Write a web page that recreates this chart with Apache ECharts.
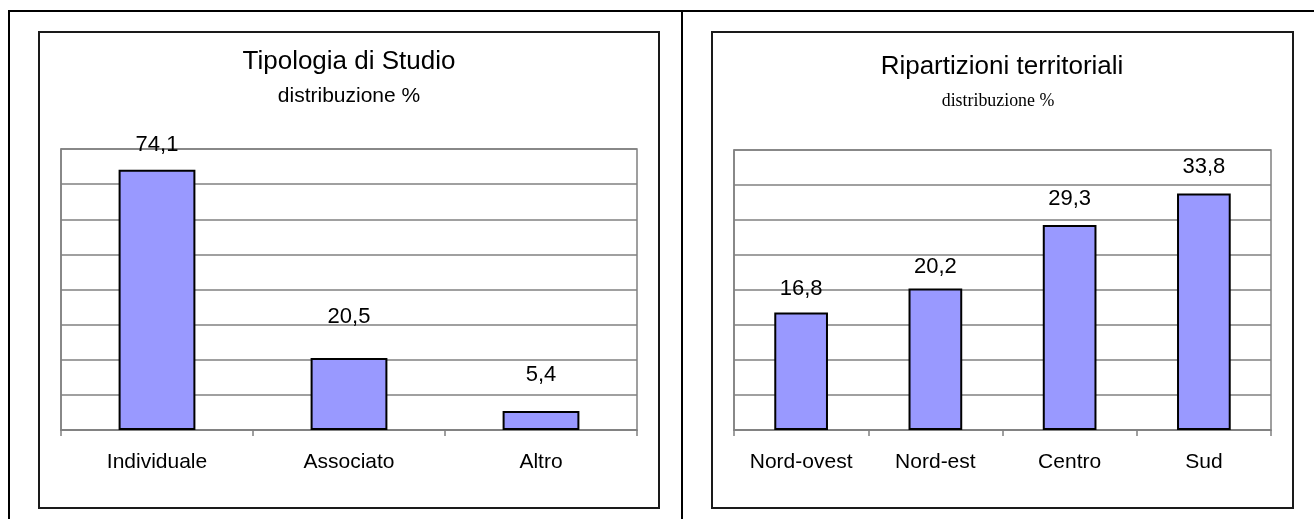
<!DOCTYPE html>
<html>
<head>
<meta charset="utf-8">
<script src="https://cdn.jsdelivr.net/npm/echarts@6/dist/echarts.min.js"></script>
<style>
  html, body { margin: 0; padding: 0; background: #ffffff; }
  #chart { width: 1314px; height: 519px; }
</style>
</head>
<body>
<div id="chart"></div>
<script>
// Tipologia di Studio — distribuzione %
const studioCategories = ['Individuale', 'Associato', 'Altro'];
const studioValues = [74.1, 20.5, 5.4];
const studioAxisMax = 80;
const studioAxisStep = 10;

// Ripartizioni territoriali — distribuzione %
const areaCategories = ['Nord-ovest', 'Nord-est', 'Centro', 'Sud'];
const areaValues = [16.8, 20.2, 29.3, 33.8];
const areaAxisMax = 40;
const areaAxisStep = 5;

// Styling
const FONT = '"Liberation Sans", Arial, sans-serif';
const GRID_GRAY = '#808080';
const BAR_FILL = '#9999ff';
const studioLabelGap = [14, 30, 25];
const areaLabelGap = [12, 11, 15, 15];

const fmt = v => v.toFixed(1).replace('.', ',');

function barSeries(values, gaps, axisIndex) {
  return {
    type: 'bar',
    xAxisIndex: axisIndex,
    yAxisIndex: axisIndex,
    barWidth: '40%',
    data: values.map((v, i) => ({
      value: v,
      label: { distance: gaps[i] }
    })),
    itemStyle: { color: BAR_FILL, borderColor: '#000000', borderWidth: 2 },
    label: {
      show: true,
      position: 'top',
      formatter: p => fmt(p.value),
      fontFamily: FONT,
      fontSize: 22,
      color: '#000000'
    },
    silent: true,
    animation: false
  };
}

function catAxis(cats, gridIndex) {
  return {
    type: 'category',
    gridIndex: gridIndex,
    data: cats,
    axisLine: { show: true, lineStyle: { color: GRID_GRAY, width: 1.5 } },
    axisTick: { show: true, length: 6, lineStyle: { color: GRID_GRAY, width: 1.5 } },
    axisLabel: { fontFamily: FONT, fontSize: 21, color: '#000000', margin: 22 }
  };
}

function valAxis(max, step, gridIndex) {
  return {
    type: 'value',
    gridIndex: gridIndex,
    min: 0,
    max: max,
    interval: step,
    axisLabel: { show: false },
    axisTick: { show: false },
    axisLine: { show: true, lineStyle: { color: GRID_GRAY, width: 1.5 } },
    splitLine: { show: true, lineStyle: { color: GRID_GRAY, width: 1.5 } }
  };
}

const chart = echarts.init(document.getElementById('chart'), null, { renderer: 'canvas' });

chart.setOption({
  backgroundColor: '#ffffff',
  animation: false,
  grid: [
    { left: 61, top: 149, width: 576, height: 281, show: true, borderColor: GRID_GRAY, borderWidth: 1.5 },
    { left: 734, top: 150, width: 537, height: 280, show: true, borderColor: GRID_GRAY, borderWidth: 1.5 }
  ],
  xAxis: [catAxis(studioCategories, 0), catAxis(areaCategories, 1)],
  yAxis: [valAxis(studioAxisMax, studioAxisStep, 0), valAxis(areaAxisMax, areaAxisStep, 1)],
  series: [barSeries(studioValues, studioLabelGap, 0), barSeries(areaValues, areaLabelGap, 1)],
  graphic: [
    // page frame
    { type: 'polyline', shape: { points: [[9, 519], [9, 11], [1314, 11]] },
      style: { stroke: '#000000', lineWidth: 2, fill: null }, silent: true },
    { type: 'line', shape: { x1: 682, y1: 11, x2: 682, y2: 519 },
      style: { stroke: '#000000', lineWidth: 2 }, silent: true },
    // chart boxes
    { type: 'rect', shape: { x: 39, y: 32, width: 620, height: 476 },
      style: { stroke: '#1a1a1a', lineWidth: 2, fill: null }, silent: true, z: -1 },
    { type: 'rect', shape: { x: 712, y: 32, width: 581, height: 476 },
      style: { stroke: '#1a1a1a', lineWidth: 2, fill: null }, silent: true, z: -1 },
    // titles
    { type: 'text', x: 349, y: 62, style: { text: 'Tipologia di Studio', font: '26px ' + FONT,
      fill: '#000000', textAlign: 'center', textVerticalAlign: 'middle' } },
    { type: 'text', x: 349, y: 96, style: { text: 'distribuzione %', font: '21px ' + FONT,
      fill: '#000000', textAlign: 'center', textVerticalAlign: 'middle' } },
    { type: 'text', x: 1002, y: 67, style: { text: 'Ripartizioni territoriali', font: '26px ' + FONT,
      fill: '#000000', textAlign: 'center', textVerticalAlign: 'middle' } },
    { type: 'text', x: 998, y: 101, scaleX: 0.94, originX: 0,
      style: { text: 'distribuzione %', font: '19px "Liberation Serif", "Times New Roman", serif',
      fill: '#000000', textAlign: 'center', textVerticalAlign: 'middle' } }
  ]
});
</script>
</body>
</html>
